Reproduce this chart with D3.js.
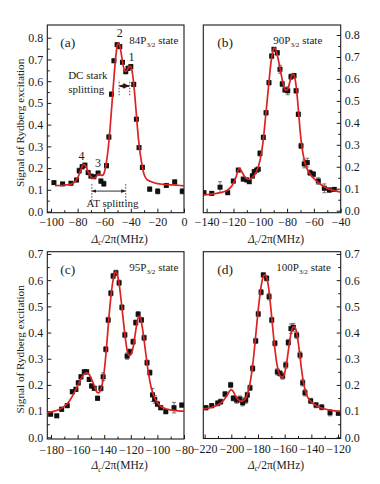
<!DOCTYPE html>
<html><head><meta charset="utf-8">
<script src="https://cdn.jsdelivr.net/npm/d3@7"></script>
<style>
body{margin:0;background:#fff}
svg{display:block}
svg text{font-family:"Liberation Serif","Tinos","Times New Roman","DejaVu Serif",serif;fill:#1a1a1a}
</style>
</head><body>
<svg id="chart" width="380" height="484"></svg>
<script>
// ---------- Panel (a): 84P3/2 ----------
const aX = [-97.8,-91.3,-85.0,-80.8,-78.8,-76.6,-74.5,-72.1,-70.0,-67.8,-64.6,-62.5,-60.3,-58.3,-56.5,-54.5,-52.7,-50.3,-48.3,-46.3,-43.8,-42.1,-40.0,-37.8,-35.8,-33.8,-31.3,-25.8,-19.8,-13.3,-7.0,-1.3];
const aY = [0.133,0.127,0.130,0.145,0.188,0.206,0.213,0.179,0.163,0.160,0.177,0.140,0.128,0.211,0.343,0.540,0.694,0.768,0.759,0.687,0.644,0.659,0.667,0.585,0.425,0.294,0.203,0.103,0.093,0.120,0.136,0.093];
const aErr = [0.006,0.005,0.006,0.008,0.012,0.010,0.010,0.008,0.007,0.008,0.008,0.010,0.012,0.010,0.010,0.010,0.008,0.008,0.008,0.008,0.010,0.010,0.010,0.010,0.008,0.008,0.010,0.010,0.012,0.008,0.010,0.012];
const aFitX = [-97,-90,-85,-82,-80,-78,-76.5,-75.3,-74,-72,-70,-68,-66,-64.5,-63,-61.5,-60,-58.5,-57,-55.5,-54,-52.5,-51,-50,-49,-48,-47,-46,-45,-44,-43,-42,-41,-40,-39,-38,-37,-36,-35,-34,-33,-32,-30,-28,-25,-20,-15,-10,-5,0];
const aFitY = [0.119,0.121,0.126,0.137,0.155,0.185,0.208,0.216,0.210,0.182,0.160,0.152,0.160,0.172,0.170,0.166,0.178,0.220,0.290,0.390,0.510,0.630,0.730,0.770,0.775,0.755,0.720,0.680,0.655,0.645,0.648,0.660,0.668,0.667,0.645,0.600,0.535,0.460,0.385,0.320,0.270,0.230,0.170,0.148,0.138,0.128,0.125,0.123,0.121,0.118];
const aXTicks = [-100,-80,-60,-40,-20,0];
const aXMinor = [-90,-70,-50,-30,-10];

// ---------- Panel (b): 90P3/2 ----------
const bX = [-142.0,-136.2,-130.0,-124.3,-120.1,-116.4,-112.7,-110.1,-108.2,-105.9,-104.5,-102.7,-101.5,-100.2,-97.7,-95.7,-93.5,-91.5,-89.8,-87.3,-85.3,-83.6,-81.6,-79.5,-77.1,-74.8,-73.3,-71.6,-69.6,-67.2,-64.9,-62.9,-60.4,-56.7,-52.2,-48.5,-44.8];
const bY = [0.082,0.079,0.107,0.082,0.135,0.185,0.144,0.140,0.132,0.158,0.178,0.185,0.189,0.261,0.334,0.446,0.583,0.704,0.735,0.719,0.644,0.577,0.550,0.546,0.610,0.615,0.546,0.439,0.295,0.213,0.219,0.173,0.166,0.135,0.102,0.094,0.097];
const bErr = [0.008,0.008,0.025,0.006,0.008,0.008,0.008,0.008,0.008,0.010,0.010,0.008,0.008,0.012,0.010,0.010,0.010,0.010,0.008,0.010,0.018,0.012,0.010,0.018,0.012,0.010,0.010,0.010,0.012,0.018,0.020,0.012,0.012,0.015,0.020,0.010,0.008];
const bFitX = [-142,-135,-130,-125,-121,-118,-116.5,-115.5,-114,-112,-110,-108,-106,-104,-102,-100,-98,-96,-94,-92,-90.5,-89.5,-88.5,-87,-85,-83,-81,-79.5,-78,-76.5,-75.5,-74.5,-73,-71.5,-70,-68,-66,-64,-62,-59,-56,-52,-48,-44,-40];
const bFitY = [0.072,0.077,0.082,0.092,0.115,0.155,0.185,0.192,0.180,0.158,0.145,0.142,0.150,0.165,0.190,0.235,0.310,0.430,0.555,0.675,0.728,0.742,0.735,0.700,0.640,0.578,0.548,0.553,0.585,0.615,0.622,0.612,0.555,0.455,0.345,0.255,0.205,0.178,0.160,0.140,0.125,0.108,0.097,0.090,0.084];
const bXTicks = [-140,-120,-100,-80,-60,-40];
const bXMinor = [-130,-110,-90,-70,-50];

// ---------- Panel (c): 95P3/2 ----------
const cX = [-180.3,-175.7,-172.0,-167.8,-164.0,-161.3,-159.5,-157.5,-155.0,-153.2,-151.3,-149.5,-147.5,-145.0,-142.5,-140.8,-138.8,-137.0,-135.0,-133.3,-131.2,-128.8,-126.7,-124.5,-122.8,-120.7,-118.3,-116.3,-114.5,-112.0,-110.0,-107.8,-105.7,-103.7,-102.0,-100.0,-97.5,-93.7,-87.5,-81.7];
const cY = [0.088,0.082,0.107,0.121,0.174,0.183,0.208,0.231,0.250,0.250,0.221,0.196,0.187,0.149,0.187,0.231,0.336,0.448,0.550,0.616,0.628,0.590,0.496,0.391,0.310,0.327,0.365,0.438,0.470,0.448,0.380,0.285,0.247,0.162,0.145,0.127,0.113,0.098,0.113,0.123];
const cErr = [0.006,0.006,0.008,0.008,0.008,0.008,0.008,0.008,0.008,0.008,0.008,0.008,0.008,0.008,0.010,0.015,0.010,0.010,0.010,0.010,0.010,0.010,0.010,0.010,0.012,0.010,0.010,0.010,0.010,0.010,0.010,0.010,0.010,0.025,0.015,0.010,0.008,0.008,0.020,0.008];
const cFitX = [-182.8,-178,-174,-170,-166,-162,-159,-157,-155,-153,-151,-149,-147,-145.5,-144,-142.5,-141,-139.5,-138,-136.5,-135,-133.5,-132.3,-131.3,-130,-128.5,-127,-125.5,-124,-122.5,-121,-119.5,-118,-116.5,-115,-114,-113,-111.5,-110,-108.5,-107,-105.5,-104,-102,-100,-97,-93,-88,-84,-80];
const cFitY = [0.095,0.099,0.106,0.118,0.140,0.175,0.207,0.228,0.242,0.246,0.238,0.216,0.190,0.172,0.170,0.185,0.215,0.275,0.360,0.455,0.535,0.595,0.625,0.632,0.618,0.575,0.510,0.440,0.375,0.325,0.312,0.320,0.350,0.400,0.445,0.462,0.458,0.425,0.370,0.310,0.255,0.210,0.178,0.150,0.132,0.117,0.108,0.103,0.101,0.100];
const cXTicks = [-180,-160,-140,-120,-100,-80];
const cXMinor = [-170,-150,-130,-110,-90];

// ---------- Panel (d): 100P3/2 ----------
const dX = [-219.0,-214.7,-210.2,-208.0,-204.7,-200.5,-198.5,-196.0,-193.5,-191.5,-189.2,-188.0,-186.0,-184.0,-181.7,-179.8,-177.7,-176.0,-173.5,-171.7,-169.7,-167.3,-165.5,-163.5,-161.5,-159.2,-157.3,-155.3,-153.5,-151.0,-148.5,-146.5,-144.8,-140.5,-136.5,-132.2,-126.0,-119.8];
const dY = [0.113,0.121,0.130,0.136,0.165,0.200,0.149,0.142,0.146,0.132,0.142,0.162,0.189,0.263,0.368,0.471,0.554,0.620,0.607,0.537,0.448,0.359,0.250,0.244,0.234,0.276,0.362,0.415,0.420,0.390,0.314,0.208,0.170,0.139,0.123,0.115,0.094,0.092];
const dErr = [0.008,0.008,0.010,0.010,0.010,0.010,0.010,0.012,0.012,0.012,0.012,0.010,0.010,0.012,0.010,0.010,0.010,0.008,0.010,0.012,0.010,0.010,0.012,0.010,0.012,0.012,0.012,0.018,0.015,0.012,0.012,0.012,0.012,0.010,0.010,0.010,0.012,0.008];
const dFitX = [-221,-215,-210,-206,-203,-201,-200,-199,-197,-195,-193,-191,-189,-187.5,-186,-184.5,-183,-181.5,-180,-178.5,-177,-175.5,-174.5,-173.5,-172,-170.5,-169,-167.5,-166,-164.5,-163,-161.5,-160,-158.5,-157,-155.5,-154,-153,-152,-150.5,-149,-147.5,-146,-144.5,-143,-140,-136,-131,-126,-118];
const dFitY = [0.108,0.114,0.124,0.140,0.162,0.178,0.182,0.178,0.160,0.145,0.138,0.140,0.152,0.172,0.205,0.255,0.320,0.400,0.478,0.545,0.595,0.618,0.620,0.610,0.570,0.500,0.420,0.345,0.285,0.248,0.232,0.230,0.245,0.285,0.340,0.390,0.418,0.423,0.418,0.385,0.330,0.265,0.212,0.178,0.156,0.135,0.120,0.110,0.104,0.098];
const dXTicks = [-220,-200,-180,-160,-140,-120];
const dXMinor = [-210,-190,-170,-150,-130];

const yTicksAB = [0,0.1,0.2,0.3,0.4,0.5,0.6,0.7,0.8];
const yMinorAB = [0.05,0.15,0.25,0.35,0.45,0.55,0.65,0.75];
const yTicksCD = [0,0.1,0.2,0.3,0.4,0.5,0.6,0.7];
const yMinorCD = [0.05,0.15,0.25,0.35,0.45,0.55,0.65];

const panelLetters = ["(a)","(b)","(c)","(d)"];
const stateN = ["84","90","95","100"];

// annotations of panel (a), in data units
const peakNames = ["1","2","3","4"];
const peakPosX = [-39.5,-48.3,-64.6,-77.0];
const peakPosY = [0.693,0.805,0.205,0.239];
const dcLinesX = [-48.8,-40.8];
const dcLinesY = [0.535,0.605];
const dcArrowY = 0.578;
const atLinesX = [-69.3,-43.8];
const atLinesY = [0.05,0.131];
const atArrowY = 0.094;

const RED = "#dd2222";
const INK = "#1a1a1a";
const SERIF = '"Liberation Serif","Tinos","Times New Roman","DejaVu Serif",serif';

const panels = [
  {box:[47.3,25,184,212.7], xd:[-102.8,0], yd:[-0.0055,0.8587], X:aX,Y:aY,E:aErr,FX:aFitX,FY:aFitY,xt:aXTicks,xm:aXMinor,yt:yTicksAB,ym:yMinorAB,side:"left"},
  {box:[203.3,25,340.7,212.7], xd:[-142.5,-40], yd:[-0.0091,0.8456], X:bX,Y:bY,E:bErr,FX:bFitX,FY:bFitY,xt:bXTicks,xm:bXMinor,yt:yTicksAB,ym:yMinorAB,side:"right"},
  {box:[47.3,251.7,184,439], xd:[-182.8,-80], yd:[-0.0065,0.7087], X:cX,Y:cY,E:cErr,FX:cFitX,FY:cFitY,xt:cXTicks,xm:cXMinor,yt:yTicksCD,ym:yMinorCD,side:"left"},
  {box:[203.3,251.7,340.7,438.5], xd:[-221,-118], yd:[-0.0045,0.7087], X:dX,Y:dY,E:dErr,FX:dFitX,FY:dFitY,xt:dXTicks,xm:dXMinor,yt:yTicksCD,ym:yMinorCD,side:"right"}
];

const svg = d3.select("#chart");
const fmtY = d3.format(".1f");
const fmtX = d3.format("d");

panels.forEach((p,i)=>{
  const [l,t,r,b] = p.box;
  const x = d3.scaleLinear().domain(p.xd).range([l,r]);
  const y = d3.scaleLinear().domain(p.yd).range([b,t]);
  const g = svg.append("g");
  const clipId = "clip"+i;
  svg.append("clipPath").attr("id",clipId).append("rect")
     .attr("x",l).attr("y",t).attr("width",r-l).attr("height",b-t);

  // x axis (ticks inward)
  g.append("g").attr("transform",`translate(0,${b})`)
    .call(d3.axisBottom(x).tickValues(p.xt).tickSizeInner(-4).tickSizeOuter(0).tickPadding(i>1?6:5).tickFormat(fmtX));
  g.append("g").attr("transform",`translate(0,${b})`)
    .call(d3.axisBottom(x).tickValues(p.xm).tickSizeInner(-2.5).tickSizeOuter(0).tickFormat(""));
  // y axis
  const yAxis = p.side==="left" ? d3.axisLeft(y) : d3.axisRight(y);
  g.append("g").attr("transform",`translate(${p.side==="left"?l:r},0)`)
    .call(yAxis.tickValues(p.yt).tickSizeInner(-4).tickSizeOuter(0).tickPadding(4).tickFormat(fmtY));
  const yAxisM = p.side==="left" ? d3.axisLeft(y) : d3.axisRight(y);
  g.append("g").attr("transform",`translate(${p.side==="left"?l:r},0)`)
    .call(yAxisM.tickValues(p.ym).tickSizeInner(-2.5).tickSizeOuter(0).tickFormat(""));
  g.selectAll(".domain").remove();
  g.selectAll("g").attr("font-family",SERIF);
  g.selectAll(".tick line").attr("stroke",INK).attr("stroke-width",1);
  g.selectAll(".tick text").attr("font-family",SERIF).attr("font-size",12).attr("fill",INK);

  // frame
  g.append("rect").attr("x",l).attr("y",t).attr("width",r-l).attr("height",b-t)
   .attr("fill","none").attr("stroke",INK).attr("stroke-width",1.1);

  const plot = g.append("g").attr("clip-path",`url(#${clipId})`);
  // error bars
  const pts = p.X.map((v,k)=>({x:v,y:p.Y[k],e:p.E[k]}));
  const eb = plot.append("g").attr("stroke","#555").attr("stroke-width",0.8);
  pts.forEach(d=>{
    const cx=x(d.x), y1=y(d.y-d.e), y2=y(d.y+d.e);
    eb.append("line").attr("x1",cx).attr("x2",cx).attr("y1",y1).attr("y2",y2);
    eb.append("line").attr("x1",cx-2).attr("x2",cx+2).attr("y1",y1).attr("y2",y1);
    eb.append("line").attr("x1",cx-2).attr("x2",cx+2).attr("y1",y2).attr("y2",y2);
  });
  // squares
  plot.append("g").selectAll("rect").data(pts).join("rect")
    .attr("x",d=>x(d.x)-2.5).attr("y",d=>y(d.y)-2.5).attr("width",5).attr("height",5)
    .attr("fill","#111");
  // fit curve
  const fit = p.FX.map((v,k)=>[v,p.FY[k]]);
  plot.append("path").datum(fit)
    .attr("d",d3.line().x(d=>x(d[0])).y(d=>y(d[1])).curve(d3.curveMonotoneX))
    .attr("fill","none").attr("stroke",RED).attr("stroke-width",1.7);

  // panel letter
  const lx = p.side==="left" ? l+13 : l+14;
  g.append("text").attr("x",lx).attr("y",t+22).attr("font-family",SERIF).attr("font-size",13.5).text(panelLetters[i]);
  // state label
  const sx = p.side==="left" ? l+82 : l+70 + (i===3?3:0);
  const st = g.append("text").attr("x",sx).attr("y",t+19).attr("font-family",SERIF).attr("font-size",11);
  st.append("tspan").text(stateN[i]+"P");
  st.append("tspan").attr("font-size",7).attr("dy",3).text("3/2");
  st.append("tspan").attr("dy",-3).text(" state");

  // x axis title
  const xt = g.append("text").attr("x",(l+r)/2+4).attr("y",b+30).attr("text-anchor","middle")
    .attr("font-family",SERIF).attr("font-size",11.5);
  xt.append("tspan").attr("font-style","italic").text("Δ");
  xt.append("tspan").attr("font-style","italic").attr("font-size",7.5).attr("dy",2.5).text("c");
  xt.append("tspan").attr("dy",-2.5).text("/2π(MHz)");

  // y axis title
  if(p.side==="left"){
    g.append("text").attr("transform",`translate(24,${(t+b)/2+4}) rotate(-90)`)
     .attr("text-anchor","middle").attr("font-family",SERIF).attr("font-size",11.2).text("Signal of Rydberg excitation");
  }

  if(i===0){
    peakNames.forEach((n,k)=>{
      g.append("text").attr("x",x(peakPosX[k])).attr("y",y(peakPosY[k])).attr("text-anchor","middle")
       .attr("font-family",SERIF).attr("font-size",12).text(n);
    });
    const ann = g.append("g");
    dcLinesX.forEach(v=>{
      ann.append("line").attr("x1",x(v)).attr("x2",x(v)).attr("y1",y(dcLinesY[0])).attr("y2",y(dcLinesY[1]))
        .attr("stroke",INK).attr("stroke-width",0.8).attr("stroke-dasharray","1.5,1.5");
    });
    atLinesX.forEach(v=>{
      ann.append("line").attr("x1",x(v)).attr("x2",x(v)).attr("y1",y(atLinesY[0])).attr("y2",y(atLinesY[1]))
        .attr("stroke",INK).attr("stroke-width",0.8).attr("stroke-dasharray","1.5,1.5");
    });
    const defs = svg.append("defs");
    defs.append("marker").attr("id","arrE").attr("viewBox","0 0 10 10").attr("refX",9).attr("refY",5)
      .attr("markerWidth",5).attr("markerHeight",5).attr("orient","auto-start-reverse")
      .append("path").attr("d","M0,1 L10,5 L0,9 z").attr("fill","#3a1010");
    ann.append("line").attr("x1",x(dcLinesX[0])+0.5).attr("x2",x(dcLinesX[1])-0.5)
      .attr("y1",y(dcArrowY)).attr("y2",y(dcArrowY)).attr("stroke","#3a1010").attr("stroke-width",1.3)
      .attr("marker-start","url(#arrE)").attr("marker-end","url(#arrE)");
    ann.append("line").attr("x1",x(atLinesX[0])+0.5).attr("x2",x(atLinesX[1])-0.5)
      .attr("y1",y(atArrowY)).attr("y2",y(atArrowY)).attr("stroke",INK).attr("stroke-width",0.9)
      .attr("marker-start","url(#arrE)").attr("marker-end","url(#arrE)");
    g.append("text").attr("x",x(-87.1)).attr("y",y(0.61)).attr("font-family",SERIF).attr("font-size",11).text("DC stark");
    g.append("text").attr("x",x(-87.1)).attr("y",y(0.545)).attr("font-family",SERIF).attr("font-size",11).text("splitting");
    g.append("text").attr("x",x(-53.8)).attr("y",y(0.02)).attr("text-anchor","middle").attr("font-family",SERIF).attr("font-size",11).text("AT splitting");
  }
});
</script>
</body></html>
